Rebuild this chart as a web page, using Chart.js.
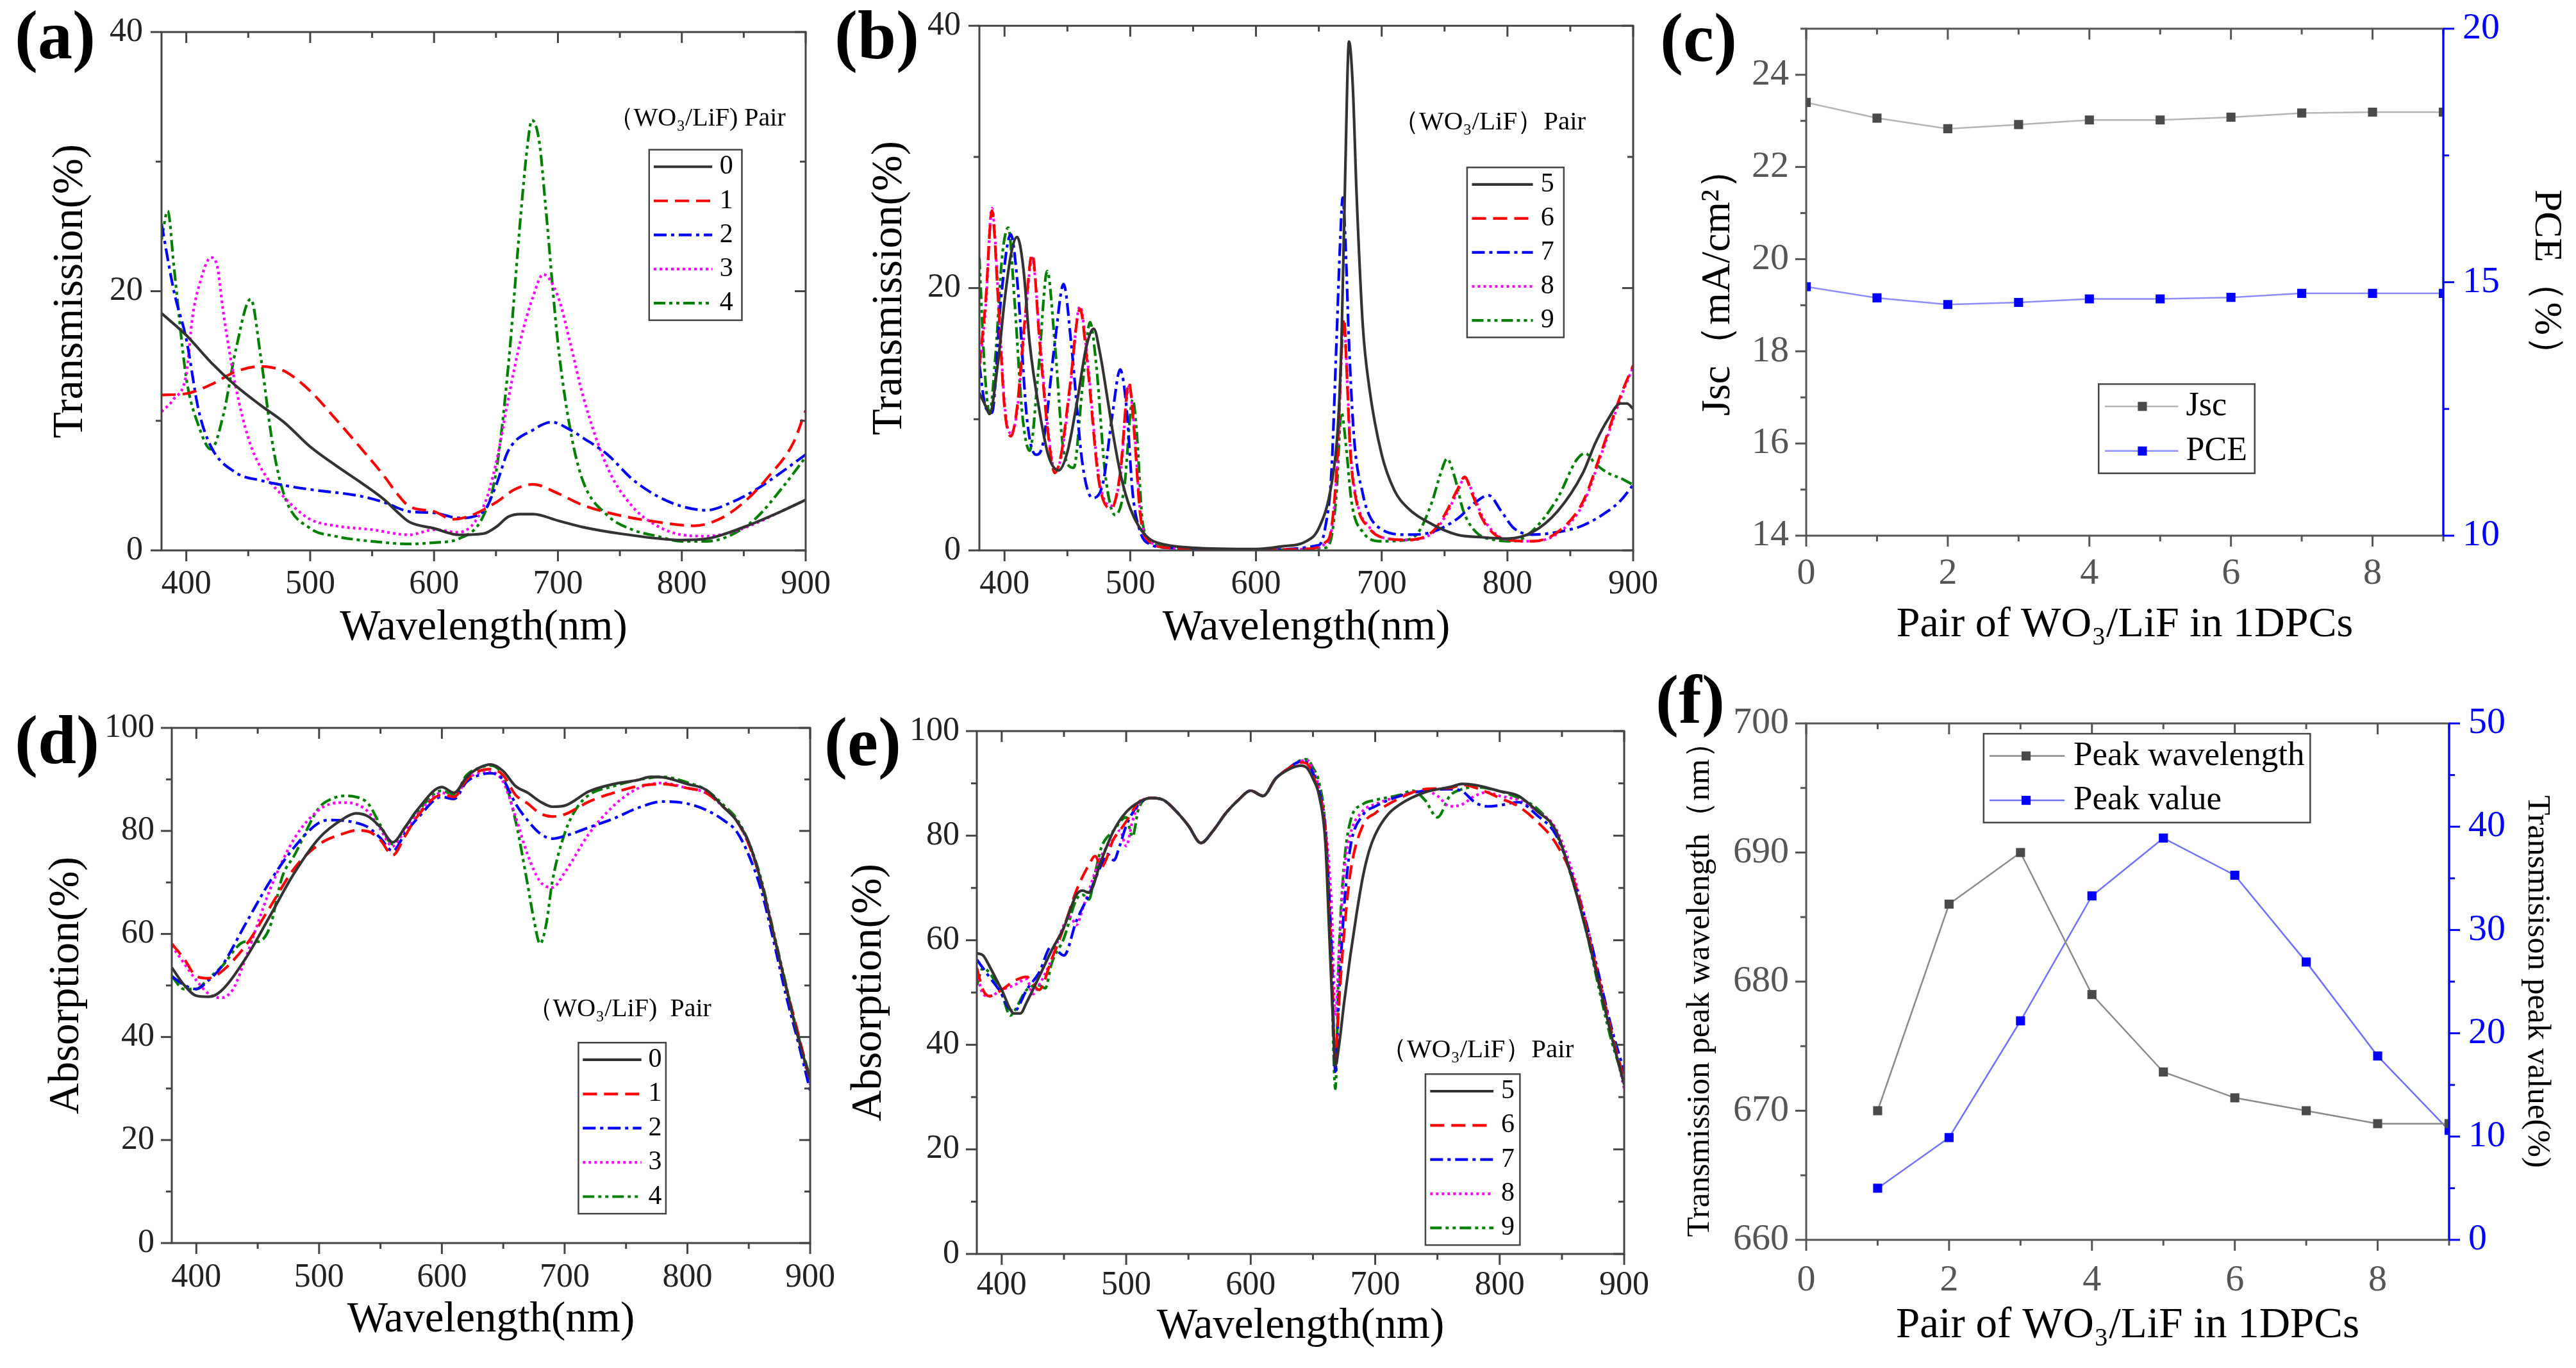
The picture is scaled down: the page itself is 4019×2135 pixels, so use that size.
<!DOCTYPE html>
<html>
<head>
<meta charset="utf-8">
<script src="https://cdn.jsdelivr.net/npm/chart.js@4.4.1/dist/chart.umd.min.js"></script>
<style>
html, body { margin: 0; padding: 0; background: #fff; }
body { width: 4019px; height: 2135px; position: relative; overflow: hidden; font-family: 'Liberation Serif', serif; }
canvas { position: absolute; }
.lab { position: absolute; font: bold 108px 'Liberation Serif', serif; line-height: 1; color: #000; }
</style>
</head>
<body>
<div class="lab" style="left:23px;top:1px">(a)</div>
<div class="lab" style="left:1302px;top:1px">(b)</div>
<div class="lab" style="left:2590px;top:5px">(c)</div>
<div class="lab" style="left:23px;top:1101px">(d)</div>
<div class="lab" style="left:1286px;top:1104px">(e)</div>
<div class="lab" style="left:2583px;top:1038px">(f)</div>
<canvas id="ca"></canvas>
<canvas id="cb"></canvas>
<canvas id="cc"></canvas>
<canvas id="cd"></canvas>
<canvas id="ce"></canvas>
<canvas id="cf"></canvas>
<script>
// ---- (a) transmission, pairs 0-4  [nm, %]
const transA0 = [[380,18.3],[400,16.6],[420,14.5],[440,12.7],[460,11.2],[480,9.8],[500,8.0],[520,6.6],[540,5.3],[560,3.9],[570,3.0],[580,2.2],[600,1.7],[620,1.2],[640,1.3],[650,1.8],[660,2.6],[670,2.8],[680,2.8],[700,2.3],[720,1.8],[750,1.3],[800,0.8],[820,0.9],[850,1.8],[880,3.0],[900,3.9]];
const transA1 = [[380,12.0],[400,12.1],[420,12.8],[440,13.8],[460,14.2],[470,14.1],[480,13.8],[500,12.3],[520,10.2],[540,8.0],[560,5.7],[570,4.4],[580,3.4],[600,3.0],[615,2.4],[630,2.7],[650,3.7],[665,4.7],[680,5.1],[700,4.4],[720,3.5],[750,2.7],[780,2.2],[810,1.9],[830,2.4],[850,3.7],[870,5.7],[890,8.3],[900,10.8]];
const transA2 = [[380,25.2],[390,20.0],[400,16.3],[410,10.8],[420,8.0],[440,6.0],[460,5.4],[480,5.0],[500,4.7],[540,4.2],[560,3.7],[580,3.0],[600,2.9],[620,2.5],[640,3.0],[650,5.0],[660,7.7],[680,9.3],[695,9.9],[710,9.3],[720,8.7],[740,7.4],[760,5.5],[780,4.2],[800,3.4],[820,3.1],[840,3.7],[860,4.7],[880,6.0],[900,7.4]];
const transA3 = [[380,10.7],[390,11.7],[400,13.6],[405,18.0],[410,20.3],[420,22.6],[425,21.9],[430,18.3],[440,12.6],[450,8.7],[460,6.4],[480,4.0],[500,2.4],[520,1.9],[550,1.6],[580,1.2],[600,1.6],[620,1.4],[640,3.4],[650,6.7],[660,11.7],[670,16.3],[680,19.6],[688,21.3],[700,19.6],[710,16.0],[720,12.0],[740,6.4],[760,3.4],[780,1.9],[800,1.2],[820,1.1],[840,1.4],[860,2.1],[880,3.0],[900,3.9]];
const transA4 = [[380,24.0],[385,26.2],[390,21.9],[400,13.3],[410,9.6],[420,7.8],[430,10.5],[440,15.5],[452,19.4],[460,15.0],[470,8.0],[480,4.0],[500,1.7],[520,1.1],[550,0.7],[580,0.5],[600,0.6],[620,0.9],[640,2.7],[650,6.0],[660,14.3],[670,25.9],[675,30.9],[679,33.2],[685,31.5],[690,26.6],[700,16.0],[710,9.3],[720,5.4],[740,2.7],[760,1.6],[780,1.1],[800,0.7],[820,0.7],[840,1.2],[860,2.5],[880,4.7],[900,7.2]];

// ---- (b) transmission, pairs 5-9
const transB5 = [[380,12.0],[385,11.0],[388,10.4],[395,14.5],[400,19.0],[405,22.5],[410,23.9],[415,21.5],[420,15.8],[428,10.5],[435,7.2],[443,6.1],[450,7.5],[458,11.5],[465,15.5],[471,16.9],[476,15.0],[482,11.5],[487,8.5],[493,5.5],[500,3.2],[507,1.8],[515,0.9],[525,0.5],[550,0.2],[600,0.1],[620,0.3],[640,0.7],[650,1.7],[660,5.0],[665,9.2],[668,15.8],[671,28.8],[674,38.8],[677,35.4],[680,27.2],[685,17.1],[690,12.5],[700,7.3],[710,4.6],[720,3.3],[740,2.0],[760,1.2],[780,1.0],[800,0.9],[820,1.4],[840,3.0],[860,5.9],[870,8.2],[880,10.0],[890,11.2],[895,11.2],[900,10.8]];
const transB6 = [[380,14.1],[385,19.0],[390,25.9],[395,19.0],[400,10.9],[405,8.7],[410,10.9],[416,17.4],[422,22.6],[428,15.8],[435,8.6],[440,5.9],[445,7.3],[452,12.5],[460,18.4],[466,14.1],[475,5.3],[485,3.2],[492,5.9],[499,12.8],[503,9.2],[508,2.7],[515,0.7],[530,0.2],[560,0.1],[600,0.05],[640,0.1],[655,0.6],[660,1.7],[665,7.6],[668,15.1],[670,17.7],[672,14.1],[675,7.6],[680,3.7],[690,1.7],[700,1.0],[720,0.8],[740,1.4],[750,2.7],[760,4.6],[766,5.6],[772,4.3],[780,2.4],[790,1.2],[800,0.8],[820,0.7],[840,1.4],[860,3.7],[875,7.6],[890,11.8],[900,14.1]];
const transB7 = [[380,14.1],[385,10.9],[390,10.5],[397,19.0],[405,24.1],[410,20.7],[418,9.9],[425,7.3],[430,7.9],[440,15.8],[447,20.3],[453,15.8],[462,6.6],[470,4.0],[478,5.0],[486,10.5],[492,13.8],[497,10.9],[502,4.3],[508,1.4],[515,0.5],[530,0.2],[600,0.05],[650,0.4],[655,1.7],[660,5.9],[664,15.8],[667,23.6],[669,26.9],[671,23.9],[674,15.8],[678,8.6],[685,4.3],[690,2.7],[700,1.6],[720,1.2],[740,1.4],[760,2.4],[775,3.7],[785,4.2],[795,3.0],[805,1.7],[820,1.2],[840,1.4],[860,1.9],[880,3.0],[890,3.8],[900,5.0]];
const transB8 = [[380,13.8],[385,18.5],[390,26.1],[395,19.5],[400,11.2],[405,8.9],[410,10.6],[416,17.0],[422,22.3],[428,16.2],[435,8.9],[440,6.1],[445,7.1],[452,12.2],[460,18.6],[466,14.5],[475,5.6],[485,3.4],[492,5.6],[499,12.5],[503,9.6],[508,2.9],[515,0.8],[530,0.2],[560,0.1],[600,0.05],[640,0.1],[655,0.5],[660,1.5],[665,7.2],[668,14.8],[670,17.5],[672,14.4],[675,7.9],[680,3.9],[690,1.8],[700,1.0],[720,0.8],[740,1.3],[750,2.5],[760,4.4],[766,5.5],[772,4.5],[780,2.6],[790,1.3],[800,0.8],[820,0.7],[840,1.3],[860,3.5],[875,7.4],[890,11.6],[900,14.0]];
const transB9 = [[380,22.3],[384,14.1],[388,10.5],[393,15.1],[398,22.3],[403,24.6],[408,19.0],[414,10.5],[420,7.6],[427,13.8],[434,21.3],[440,15.8],[447,7.6],[455,6.3],[462,12.5],[468,17.4],[473,14.1],[480,5.9],[488,2.7],[495,4.6],[502,11.5],[505,9.2],[510,2.0],[518,0.5],[540,0.2],[600,0.05],[655,0.2],[660,1.0],[664,4.3],[668,10.5],[672,7.6],[676,3.7],[685,1.4],[700,0.7],[720,0.8],[730,1.5],[740,3.7],[747,5.9],[752,7.0],[758,5.6],[765,3.0],[775,1.4],[790,0.8],[805,0.7],[820,1.5],[840,4.0],[855,6.9],[862,7.4],[870,6.6],[880,5.9],[890,5.5],[900,5.0]];

// ---- (c) Jsc / PCE vs pair number
const pairsC = [0, 1, 2, 3, 4, 5, 6, 7, 8, 9];
const jscC = [23.40, 23.06, 22.83, 22.92, 23.02, 23.02, 23.08, 23.17, 23.19, 23.19];
const pceC = [14.91, 14.69, 14.56, 14.60, 14.67, 14.67, 14.70, 14.78, 14.78, 14.78];

// ---- (d) absorption, pairs 0-4
const absD0 = [[380,53.5],[390,50.1],[400,48.0],[410,47.8],[420,48.9],[440,55.2],[460,63.5],[480,71.9],[500,78.6],[520,82.4],[530,83.4],[540,82.8],[550,80.7],[560,77.8],[570,80.7],[580,84.1],[600,88.5],[610,87.4],[620,90.4],[630,92.2],[640,92.9],[650,91.6],[660,88.7],[670,87.4],[680,85.7],[690,84.7],[700,84.9],[720,87.7],[740,89.1],[760,89.9],[770,90.5],[780,90.4],[800,89.1],[815,88.0],[830,84.5],[840,82.0],[850,77.8],[860,70.2],[870,60.2],[880,50.1],[890,40.1],[900,31.7]];
const absD1 = [[380,58.1],[390,55.2],[400,51.8],[410,51.4],[420,52.6],[440,57.7],[460,65.2],[480,72.8],[500,77.4],[520,79.5],[530,80.1],[540,79.9],[550,78.2],[560,75.3],[570,79.0],[580,82.8],[600,87.0],[610,86.6],[620,89.9],[630,91.6],[640,92.0],[650,90.8],[660,87.0],[670,85.3],[680,83.4],[690,82.8],[700,83.2],[720,85.7],[740,87.4],[760,88.7],[780,89.1],[800,88.3],[815,87.4],[830,84.5],[840,82.0],[850,77.4],[860,70.2],[870,60.2],[880,50.1],[890,40.9],[900,31.3]];
const absD2 = [[380,51.8],[390,50.1],[400,49.3],[410,51.0],[420,53.5],[440,61.9],[460,70.2],[480,76.9],[500,81.6],[510,82.1],[520,82.0],[530,81.6],[540,80.7],[550,78.6],[560,76.1],[570,79.5],[580,82.4],[600,86.6],[610,86.2],[620,89.5],[630,90.8],[640,91.2],[650,89.9],[660,85.3],[670,82.0],[680,79.5],[690,78.5],[700,79.0],[720,80.7],[740,82.4],[760,84.5],[780,85.7],[800,85.3],[815,84.1],[830,82.0],[840,79.9],[850,75.3],[860,68.6],[870,58.9],[880,48.4],[890,39.2],[900,29.6]];
const absD3 = [[380,57.7],[390,54.3],[400,51.0],[410,48.4],[420,47.6],[430,49.3],[440,55.2],[460,68.6],[480,78.6],[500,84.1],[510,85.3],[520,85.5],[530,85.2],[540,83.7],[550,80.3],[560,77.0],[570,80.3],[580,83.2],[600,87.4],[610,86.6],[620,89.9],[630,91.2],[640,91.4],[650,89.5],[660,82.8],[670,75.3],[680,70.2],[690,69.0],[700,71.9],[720,79.5],[740,84.9],[760,88.3],[780,89.3],[800,88.3],[815,87.4],[830,84.5],[840,82.0],[850,77.4],[860,70.2],[870,60.2],[880,50.1],[890,40.1],[900,30.8]];
const absD4 = [[380,51.8],[390,49.3],[400,49.3],[410,51.4],[420,53.5],[440,58.5],[450,58.5],[460,61.4],[470,71.1],[480,75.3],[500,84.5],[510,86.2],[520,86.8],[530,86.6],[540,85.3],[550,81.1],[560,77.4],[570,80.7],[580,83.7],[600,87.8],[610,87.0],[620,90.8],[630,92.2],[640,92.7],[650,90.4],[660,82.0],[670,69.4],[675,62.7],[680,58.1],[685,61.9],[690,70.2],[700,79.5],[710,84.5],[720,87.0],[740,88.7],[760,89.9],[780,90.5],[800,89.4],[815,88.0],[830,84.9],[840,82.4],[850,77.8],[860,70.7],[870,60.6],[880,50.5],[890,40.5],[900,32.1]];

// ---- (e) absorption, pairs 5-9
const absE5 = [[380,57.5],[385,57.1],[390,55.1],[400,50.5],[410,46.0],[415,46.0],[420,48.1],[430,53.0],[440,58.0],[450,62.5],[460,68.7],[465,69.5],[470,69.1],[480,75.3],[490,81.0],[500,84.5],[510,86.4],[520,87.2],[530,86.8],[540,84.7],[550,81.9],[560,78.6],[570,81.0],[580,84.3],[590,86.8],[600,88.6],[610,87.6],[620,90.9],[630,92.6],[640,93.4],[645,93.0],[650,90.9],[655,87.6],[660,78.6],[663,62.0],[666,45.0],[668,36.0],[671,40.0],[675,48.0],[680,57.0],[685,65.0],[690,72.0],[695,77.0],[700,80.2],[710,84.0],[720,86.0],[740,88.3],[760,89.3],[770,89.9],[780,89.7],[800,88.5],[815,87.6],[830,84.7],[845,81.0],[860,70.3],[870,61.3],[880,51.4],[890,41.5],[900,32.4]];
const absE6 = [[380,54.7],[385,50.5],[390,49.3],[400,50.5],[410,52.2],[420,53.0],[430,50.5],[440,56.3],[450,62.5],[460,69.5],[470,74.4],[475,76.1],[480,74.0],[490,79.4],[495,81.0],[500,82.7],[510,86.4],[520,87.2],[530,86.8],[540,84.7],[550,81.9],[560,78.6],[570,81.0],[580,84.3],[590,86.8],[600,88.6],[610,87.6],[620,90.9],[630,92.8],[640,94.0],[645,93.8],[650,91.5],[655,88.0],[660,80.2],[665,53.8],[668,37.3],[670,44.8],[675,61.3],[680,72.8],[690,81.9],[700,84.3],[720,87.2],[740,88.9],[760,89.1],[770,89.7],[790,88.3],[800,87.2],[815,85.6],[830,82.7],[845,78.6],[860,71.1],[870,62.1],[880,52.2],[890,42.3],[900,33.2]];
const absE7 = [[380,56.3],[390,53.0],[400,49.7],[405,47.2],[410,46.4],[420,50.5],[430,53.8],[440,58.8],[450,57.1],[460,63.7],[470,68.7],[480,74.4],[485,76.5],[490,75.3],[495,78.2],[500,81.9],[510,86.0],[520,87.2],[530,86.8],[540,84.7],[550,81.9],[560,78.6],[570,81.0],[580,84.3],[590,86.8],[600,88.6],[610,87.6],[620,90.9],[630,92.8],[640,94.2],[645,94.0],[650,92.0],[655,88.5],[660,81.0],[665,58.0],[668,34.9],[671,49.7],[675,66.2],[680,77.7],[690,83.9],[700,85.6],[720,87.6],[740,88.6],[760,88.9],[770,88.5],[780,86.4],[790,85.6],[800,85.8],[815,86.4],[830,83.9],[845,80.2],[860,71.1],[870,62.9],[880,53.0],[890,43.1],[900,34.9]];
const absE8 = [[380,53.8],[385,49.7],[390,49.3],[400,50.5],[410,51.4],[420,52.6],[425,49.7],[430,51.4],[440,56.3],[450,63.0],[455,64.5],[460,62.9],[465,66.0],[470,69.5],[480,76.1],[490,79.4],[495,81.0],[500,78.0],[505,82.7],[510,86.0],[520,87.2],[530,86.8],[540,84.7],[550,81.9],[560,78.6],[570,81.0],[580,84.3],[590,86.8],[600,88.6],[610,87.6],[620,90.9],[630,92.8],[640,94.2],[645,94.5],[650,92.5],[655,89.0],[660,81.9],[665,66.2],[668,45.6],[671,58.0],[675,72.8],[680,80.2],[690,84.7],[700,86.0],[720,87.6],[740,88.6],[750,87.6],[760,85.6],[770,86.0],[780,87.6],[790,88.3],[800,87.6],[815,86.8],[830,84.7],[845,81.4],[860,71.9],[870,62.9],[880,53.0],[890,42.3],[900,31.6]];
const absE9 = [[380,51.4],[385,54.7],[390,53.8],[400,49.7],[407,45.6],[410,46.4],[420,50.5],[430,51.4],[435,50.8],[440,55.5],[450,60.4],[460,67.8],[465,68.7],[470,67.8],[475,72.8],[480,77.7],[490,81.0],[500,83.5],[505,79.8],[510,85.2],[520,87.2],[530,86.8],[540,84.7],[550,81.9],[560,78.6],[570,81.0],[580,84.3],[590,86.8],[600,88.6],[610,87.6],[620,90.9],[630,92.8],[640,94.4],[645,94.6],[650,93.0],[655,90.1],[660,81.7],[664,62.1],[668,31.6],[671,58.0],[675,74.4],[680,82.7],[690,86.0],[700,86.8],[720,87.8],[730,88.6],[740,86.8],[750,83.5],[760,87.6],[770,88.9],[780,89.3],[800,88.5],[815,87.2],[830,85.2],[845,80.6],[860,70.3],[870,61.3],[880,50.5],[890,40.6],[900,33.2]];

// ---- (f) transmission peak vs pair number
const pairsF = [1, 2, 3, 4, 5, 6, 7, 8, 9];
const peakWlF = [670, 686, 690, 679, 673, 671, 670, 669, 669];
const peakValF = [5.0, 9.9, 21.2, 33.3, 38.9, 35.3, 26.9, 17.8, 10.6];

// ---------------------------------------------------------------
const SERIF = "'Liberation Serif', 'Times New Roman', serif";
Chart.defaults.font.family = SERIF;
Chart.defaults.color = '#222';

// line look of the five curves in each spectrum panel
const curveStyle = [
  { color: '#333333', dash: [] },
  { color: '#ff0000', dash: [22, 11] },
  { color: '#0000ff', dash: [20, 7, 5, 7] },
  { color: '#ff00ff', dash: [4, 5] },
  { color: '#008000', dash: [18, 6, 5, 6, 5, 6] }
];

function spectrum(label, pts, i) {
  return {
    label: label,
    data: pts.map(p => ({ x: p[0], y: p[1] })),
    borderColor: curveStyle[i].color,
    borderDash: curveStyle[i].dash,
    borderWidth: 4.2,
    pointRadius: 0,
    cubicInterpolationMode: 'monotone',
    fill: false
  };
}

function markerLine(label, xs, ys, line, dot, axis) {
  return {
    label: label,
    data: xs.map((x, i) => ({ x: x, y: ys[i] })),
    yAxisID: axis,
    borderColor: line,
    borderWidth: 2.5,
    pointStyle: 'rect',
    pointRadius: 10,
    pointBackgroundColor: dot,
    pointBorderColor: dot,
    pointBorderWidth: 0,
    tension: 0
  };
}

function seg(ctx, x1, y1, x2, y2) {
  ctx.beginPath(); ctx.moveTo(x1, y1); ctx.lineTo(x2, y2); ctx.stroke();
}

// box frame + ticks (bottom/left outward, top/right inward, y2 outward)
const framePlugin = {
  id: 'frame',
  afterDatasetsDraw(chart, args, o) {
    const ctx = chart.ctx, a = chart.chartArea;
    ctx.save();
    ctx.lineWidth = o.width;
    ctx.strokeStyle = o.color;
    ctx.strokeRect(a.left, a.top, a.right - a.left, a.bottom - a.top);
    for (const id in o.axes) {
      const ax = o.axes[id], sc = chart.scales[id];
      const major = sc.ticks.map(t => t.value);
      const minor = [];
      for (let v = Math.ceil(sc.min / ax.minor) * ax.minor; v <= sc.max + 1e-9; v += ax.minor) {
        const r = Math.round(v * 1000) / 1000;
        if (!major.some(m => Math.abs(m - r) < 1e-6)) minor.push(r);
      }
      ctx.strokeStyle = ax.color || o.color;
      if (id === 'y2') seg(ctx, a.right, a.top, a.right, a.bottom);
      const marks = major.map(v => [v, o.major]).concat(minor.map(v => [v, o.minor]));
      for (const [v, len] of marks) {
        const p = sc.getPixelForValue(v);
        if (sc.position === 'bottom') {
          seg(ctx, p, a.bottom, p, a.bottom + len);
          seg(ctx, p, a.top, p, a.top + len);
        } else if (sc.position === 'left') {
          seg(ctx, a.left, p, a.left - len, p);
          if (ax.mirror) seg(ctx, a.right, p, a.right - len, p);
        } else {
          seg(ctx, a.right, p, a.right + len, p);
        }
      }
    }
    ctx.restore();
  }
};

// Origin style boxed legend, placed in chart-area fractions
const boxLegend = {
  id: 'boxLegend',
  afterDraw(chart, args, o) {
    if (!o.rect) return;
    const ctx = chart.ctx, a = chart.chartArea;
    const W = a.right - a.left, H = a.bottom - a.top;
    const bx = a.left + o.rect[0] * W, by = a.top + o.rect[1] * H;
    const bw = (o.rect[2] - o.rect[0]) * W, bh = (o.rect[3] - o.rect[1]) * H;
    ctx.save();
    ctx.strokeStyle = '#444';
    ctx.lineWidth = 2.5;
    ctx.strokeRect(bx, by, bw, bh);
    ctx.textBaseline = 'middle';
    ctx.fillStyle = '#000';
    if (o.title) {
      ctx.font = o.titleSize + 'px ' + SERIF;
      ctx.textAlign = 'center';
      ctx.fillText(o.title, a.left + o.titlePos[0] * W, a.top + o.titlePos[1] * H);
    }
    const sets = chart.data.datasets, rh = bh / sets.length;
    ctx.font = o.textSize + 'px ' + SERIF;
    ctx.textAlign = 'left';
    sets.forEach((ds, i) => {
      const cy = by + rh * (i + 0.5);
      ctx.strokeStyle = ds.borderColor;
      ctx.lineWidth = ds.borderWidth;
      ctx.setLineDash(ds.borderDash || []);
      seg(ctx, bx + o.line[0] * bw, cy, bx + o.line[1] * bw, cy);
      ctx.setLineDash([]);
      if (o.marker) {
        const s = ds.pointRadius * 1.414, mx = bx + o.marker * bw;
        ctx.fillStyle = ds.pointBackgroundColor;
        ctx.fillRect(mx - s / 2, cy - s / 2, s, s);
      }
      ctx.fillStyle = '#000';
      ctx.fillText(ds.label, bx + o.text * bw, cy);
    });
    ctx.restore();
  }
};

// canvas box (x0..x1, y0..y1) and plot area (L,T,R,B) of each panel, page pixels
const geo = {
  a: { x0: 70,   y0: -20,  x1: 1318, y1: 1021, L: 252,  T: 50,   R: 1258, B: 859 },
  b: { x0: 1348, y0: -20,  x1: 2609, y1: 1021, L: 1528, T: 38,   R: 2549, B: 859 },
  c: { x0: 2643, y0: -20,  x1: 4009, y1: 1015, L: 2818, T: 33,   R: 3812, B: 836 },
  d: { x0: 64,   y0: 1070, x1: 1326, y1: 2101, L: 268,  T: 1136, R: 1266, B: 1940 },
  e: { x0: 1316, y0: 1070, x1: 2594, y1: 2111, L: 1524, T: 1141, R: 2534, B: 1957 },
  f: { x0: 2622, y0: 1060, x1: 3989, y1: 2110, L: 2818, T: 1129, R: 3821, B: 1935 }
};

function makeChart(id, g, datasets, axes, frame, legend) {
  const cv = document.getElementById(id);
  cv.width = g.x1 - g.x0;
  cv.height = g.y1 - g.y0;
  cv.style.left = g.x0 + 'px';
  cv.style.top = g.y0 + 'px';
  const scales = {};
  for (const key in axes) {
    const s = axes[key];
    scales[key] = {
      type: 'linear', position: s.pos, min: s.min, max: s.max,
      ticks: { stepSize: s.step, includeBounds: false, padding: s.pad, color: s.tickColor || '#222',
               font: { family: SERIF, size: s.tickSize }, maxRotation: 0, autoSkip: false },
      grid: { display: false, drawTicks: false },
      border: { display: false },
      title: { display: true, text: s.title, color: '#000', font: { family: SERIF, size: s.titleSize }, padding: 0 },
      afterFit(sc) {
        if (s.pos === 'bottom') sc.height = g.y1 - g.B;
        else if (s.pos === 'left') sc.width = g.L - g.x0;
        else sc.width = g.x1 - g.R;
      }
    };
  }
  return new Chart(cv, {
    type: 'line',
    data: { datasets: datasets },
    options: {
      responsive: false,
      animation: false,
      events: [],
      layout: { padding: { top: g.T - g.y0, right: axes.y2 ? 0 : g.x1 - g.R, left: 0, bottom: 0 } },
      scales: scales,
      plugins: { legend: { display: false }, tooltip: { enabled: false }, frame: frame, boxLegend: legend }
    },
    plugins: [framePlugin, boxLegend]
  });
}

const wlAxis = { pos: 'bottom', min: 380, max: 900, step: 100, pad: 22, tickSize: 52, title: 'Wavelength(nm)', titleSize: 67 };
const specFrame = { color: '#444', width: 3, major: 17, minor: 9,
  axes: { x: { minor: 50 }, y: { minor: 10, mirror: true } } };

// (a)
makeChart('ca', geo.a, [
  spectrum('0', transA0, 0), spectrum('1', transA1, 1), spectrum('2', transA2, 2),
  spectrum('3', transA3, 3), spectrum('4', transA4, 4)
], {
  x: wlAxis,
  y: { pos: 'left', min: 0, max: 40, step: 20, pad: 29, tickSize: 52, title: 'Transmission(%)', titleSize: 67 }
}, specFrame, {
  rect: [0.757, 0.227, 0.901, 0.556], title: '（WO₃/LiF) Pair', titlePos: [0.831, 0.167], titleSize: 40,
  line: [0.05, 0.68], text: 0.76, textSize: 42
});

// (b)
makeChart('cb', geo.b, [
  spectrum('5', transB5, 0), spectrum('6', transB6, 1), spectrum('7', transB7, 2),
  spectrum('8', transB8, 3), spectrum('9', transB9, 4)
], {
  x: wlAxis,
  y: { pos: 'left', min: 0, max: 40, step: 20, pad: 29, tickSize: 52, title: 'Transmission(%)', titleSize: 67 }
}, specFrame, {
  rect: [0.746, 0.270, 0.894, 0.594], title: '（WO₃/LiF）Pair', titlePos: [0.780, 0.184], titleSize: 41,
  line: [0.05, 0.68], text: 0.76, textSize: 42
});

// (c)
makeChart('cc', geo.c, [
  markerLine('Jsc', pairsC, jscC, '#b4b4b4', '#4a4a4a', 'y'),
  markerLine('PCE', pairsC, pceC, '#8c8cff', '#0000ff', 'y2')
], {
  x: { pos: 'bottom', min: 0, max: 9, step: 2, pad: 25, tickSize: 58, tickColor: '#555', title: 'Pair of WO₃/LiF in 1DPCs', titleSize: 66 },
  y: { pos: 'left', min: 14, max: 25, step: 2, pad: 27, tickSize: 58, tickColor: '#555', title: 'Jsc（mA/cm²）', titleSize: 64 },
  y2: { pos: 'right', min: 10, max: 20, step: 5, pad: 30, tickSize: 58, tickColor: '#0000ff', title: 'PCE（%）', titleSize: 62 }
}, { color: '#555', width: 3, major: 17, minor: 9,
  axes: { x: { minor: 1 }, y: { minor: 1 }, y2: { minor: 2.5, color: '#0000ff' } } }, {
  rect: [0.459, 0.701, 0.704, 0.877], line: [0.04, 0.51], marker: 0.28, text: 0.56, textSize: 52
});

// (d)
makeChart('cd', geo.d, [
  spectrum('0', absD0, 0), spectrum('1', absD1, 1), spectrum('2', absD2, 2),
  spectrum('3', absD3, 3), spectrum('4', absD4, 4)
], {
  x: Object.assign({}, wlAxis, { pad: 23 }),
  y: { pos: 'left', min: 0, max: 100, step: 20, pad: 27, tickSize: 52, title: 'Absorption(%)', titleSize: 67 }
}, specFrame, {
  rect: [0.637, 0.611, 0.774, 0.943], title: '（WO₃/LiF)  Pair', titlePos: [0.701, 0.547], titleSize: 40,
  line: [0.05, 0.72], text: 0.80, textSize: 42
});

// (e)
makeChart('ce', geo.e, [
  spectrum('5', absE5, 0), spectrum('6', absE6, 1), spectrum('7', absE7, 2),
  spectrum('8', absE8, 3), spectrum('9', absE9, 4)
], {
  x: Object.assign({}, wlAxis, { pad: 18 }),
  y: { pos: 'left', min: 0, max: 100, step: 20, pad: 27, tickSize: 52, title: 'Absorption(%)', titleSize: 67 }
}, specFrame, {
  rect: [0.693, 0.656, 0.839, 0.983], title: '（WO₃/LiF）Pair', titlePos: [0.773, 0.610], titleSize: 41,
  line: [0.05, 0.72], text: 0.80, textSize: 42
});

// (f)
makeChart('cf', geo.f, [
  markerLine('Peak wavelength', pairsF, peakWlF, '#8a8a8a', '#4a4a4a', 'y'),
  markerLine('Peak value', pairsF, peakValF, '#7070ff', '#0000ff', 'y2')
], {
  x: { pos: 'bottom', min: 0, max: 9, step: 2, pad: 29, tickSize: 58, tickColor: '#555', title: 'Pair of WO₃/LiF in 1DPCs', titleSize: 67 },
  y: { pos: 'left', min: 660, max: 700, step: 10, pad: 27, tickSize: 58, tickColor: '#555', title: 'Transmission peak wavelength（nm）', titleSize: 51 },
  y2: { pos: 'right', min: 0, max: 50, step: 10, pad: 30, tickSize: 58, tickColor: '#0000ff', title: 'Transmisison peak value(%)', titleSize: 51 }
}, { color: '#555', width: 3, major: 17, minor: 9,
  axes: { x: { minor: 1 }, y: { minor: 5 }, y2: { minor: 5, color: '#0000ff' } } }, {
  rect: [0.276, 0.020, 0.784, 0.192], line: [0.018, 0.248], marker: 0.13, text: 0.275, textSize: 53
});
</script>
</body>
</html>
